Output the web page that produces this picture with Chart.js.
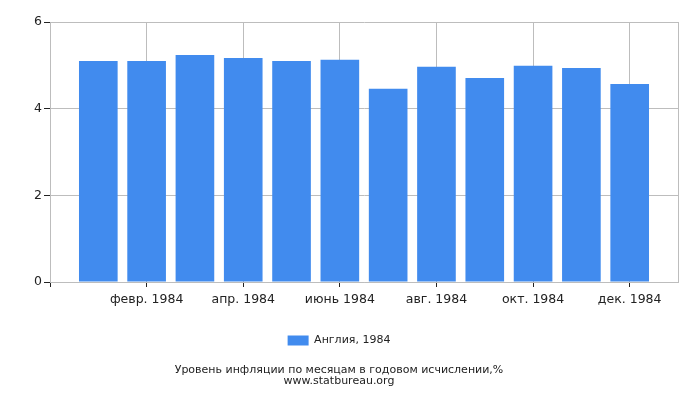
<!DOCTYPE html>
<html>
<head>
<meta charset="utf-8">
<script src="https://cdn.jsdelivr.net/npm/chart.js@4"></script>
<style>
  body { margin: 0; background: #fff; }
  #wrap { width: 700px; height: 400px; }
</style>
</head>
<body>
<div id="wrap"><canvas id="myChart"></canvas></div>
<script>
// месяцы 1984 и годовая инфляция, %
const months = ['янв. 1984', 'февр. 1984', 'март 1984', 'апр. 1984', 'май 1984', 'июнь 1984',
  'июль 1984', 'авг. 1984', 'сент. 1984', 'окт. 1984', 'нояб. 1984', 'дек. 1984'];
const inflation = [5.10, 5.10, 5.24, 5.17, 5.10, 5.13, 4.46, 4.97, 4.71, 4.99, 4.94, 4.57];
const yTicks = [0, 2, 4, 6];
const seriesName = 'Англия, 1984';
const titleLines = ['Уровень инфляции по месяцам в годовом исчислении,%', 'www.statbureau.org'];

const font = { family: 'DejaVu Sans', size: 11 };
const axisFont = { family: 'DejaVu Sans', size: 12.5 };
const textColor = '#222';
const gridColor = '#bdbdbd';
const lastX = months.length + 1;

const ctx = document.getElementById('myChart').getContext('2d');
new Chart(ctx, {
  type: 'bar',
  data: {
    datasets: [{
      label: seriesName,
      data: inflation.map((v, i) => ({ x: i + 1, y: v })),
      backgroundColor: '#418bee',
      barPercentage: 1,
      categoryPercentage: 0.8,
    }],
  },
  options: {
    responsive: true,
    maintainAspectRatio: false,
    animation: false,
    layout: { padding: { top: 22, right: 22, bottom: 9, left: 0 } },
    scales: {
      x: {
        type: 'linear',
        min: 0,
        max: lastX,
        offset: false,
        afterBuildTicks: (scale) => {
          const t = [{ value: 0 }];
          for (let i = 2; i <= months.length; i += 2) t.push({ value: i });
          t.push({ value: lastX });
          scale.ticks = t;
        },
        ticks: {
          font: axisFont,
          color: textColor,
          maxRotation: 0,
          autoSkip: false,
          padding: 5,
          callback: (v) => months[v - 1] || '',
        },
        grid: {
          offset: false,
          color: gridColor,
          tickColor: (c) => (c.tick && c.tick.value === lastX ? 'rgba(0,0,0,0)' : '#222'),
          tickLength: 5,
        },
        border: { color: gridColor },
      },
      y: {
        min: 0,
        max: 6,
        afterBuildTicks: (scale) => { scale.ticks = yTicks.map(v => ({ value: v })); },
        afterFit: (scale) => { scale.width = 50; },
        ticks: { font: axisFont, color: textColor, padding: 2 },
        grid: { color: gridColor, tickColor: '#222', tickLength: 6 },
        border: { color: gridColor },
      },
    },
    plugins: {
      legend: {
        position: 'bottom',
        labels: { font: font, color: textColor, boxWidth: 21, boxHeight: 10, padding: 23 },
      },
      title: {
        display: true,
        position: 'bottom',
        text: titleLines,
        font: { family: 'DejaVu Sans', size: 11, weight: 'normal', lineHeight: 1.0 },
        color: textColor,
        padding: { top: 9, bottom: 4 },
      },
      tooltip: { enabled: false },
    },
  },
});
</script>
</body>
</html>
